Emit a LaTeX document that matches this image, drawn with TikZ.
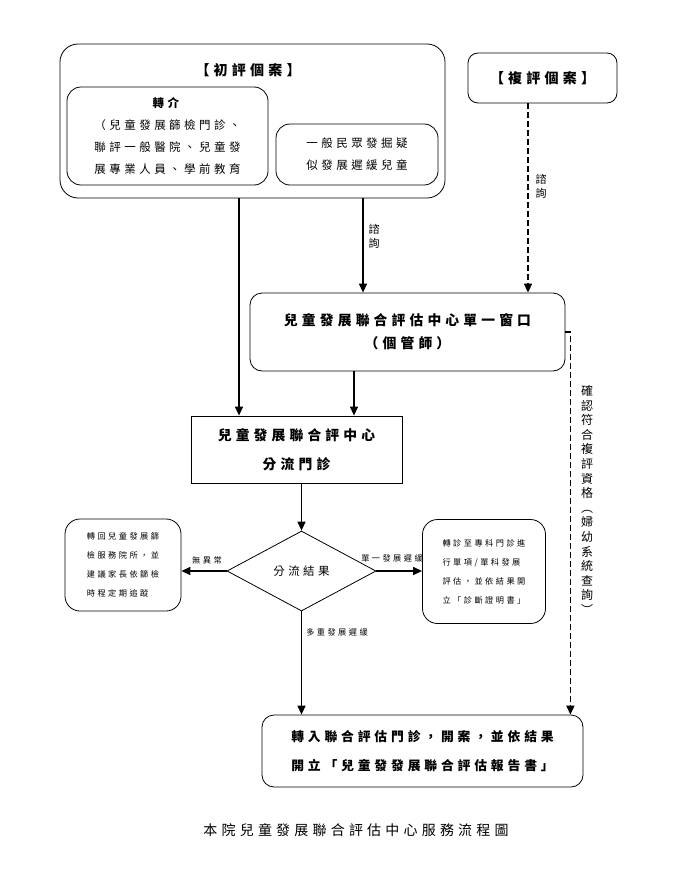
\documentclass[tikz,border=0pt]{standalone}
\usepackage{fontspec}
\newfontfamily\cjk[LetterSpace=30]{Noto Sans CJK TC}
\newfontfamily\cjkstack{Noto Sans CJK TC}
\usetikzlibrary{arrows.meta, positioning, shapes.geometric}

\begin{document}
\begin{tikzpicture}[>={Triangle[length=9pt,width=8pt]}, x=1pt, y=-1pt, font=\cjk]

        % Styles
        \tikzstyle{casebox} = [draw, line width=0.8pt, rounded corners=18pt, inner sep=0pt]
        \tikzstyle{innerbox} = [draw, line width=0.8pt, rounded corners=14pt, align=center, font=\cjk\fontsize{11.5}{22}\selectfont]
        \tikzstyle{mainbox} = [draw, line width=0.8pt, rounded corners=12pt, align=center, font=\cjk\bfseries\fontsize{13.8}{23}\selectfont]
        \tikzstyle{sidebox} = [draw, line width=0.8pt, rounded corners=15pt, align=left, font=\cjk\fontsize{8.2}{19}\selectfont]
        \tikzstyle{edgelabel} = [inner sep=1pt, font=\cjk\fontsize{8.2}{10}\selectfont]
        \tikzstyle{stacklabel} = [inner sep=0pt, align=center, font=\cjkstack\fontsize{11}{14}\selectfont]
        \tikzstyle{arrowline} = [->, line width=1.3pt]
        \tikzstyle{dasharrow} = [->, line width=1.6pt, dash pattern=on 6pt off 3pt]

        \useasboundingbox (0,0) rectangle (687,886);

        % First visit cases
        \node[casebox, minimum width=385pt, minimum height=154pt] (initial) at (252.5,121) {};
        \node[font=\cjk\bfseries\fontsize{14}{16}\selectfont] (initialtitle) at (248,70) {【初評個案】};
        \node[innerbox, minimum width=201pt, minimum height=98pt] (referral) at (167.5,136) {\textbf{轉介}\\（兒童發展篩檢門診、\\聯評一般醫院、兒童發\\展專業人員、學前教育};
        \node[innerbox, minimum width=162pt, minimum height=61pt] (public) at (357,154.5) {一般民眾發掘疑\\似發展遲緩兒童};

        % Follow-up cases
        \node[casebox, rounded corners=10pt, minimum width=149pt, minimum height=50pt, font=\cjk\bfseries\fontsize{14}{16}\selectfont] (revisit) at (542.5,78) {【複評個案】};

        % Center and triage
        \node[mainbox, minimum width=315pt, minimum height=78pt] (window) at (407.5,332) {兒童發展聯合評估中心單一窗口\\（個管師）};
        \node[mainbox, sharp corners, minimum width=211pt, minimum height=67pt, font=\cjk\bfseries\fontsize{13.8}{29}\selectfont] (triage) at (296.5,449.5) {兒童發展聯合評中心\\分流門診};
        \node[draw, diamond, line width=0.8pt, minimum width=149pt, minimum height=80pt, inner sep=0pt, font=\cjk\fontsize{11.5}{14}\selectfont] (decision) at (301.5,571) {分流結果};

        % Outcomes
        \node[sidebox, minimum width=116pt, minimum height=92pt] (normal) at (123,565) {轉回兒童發展篩\\檢服務院所，並\\建議家長依篩檢\\時程定期追蹤};
        \node[sidebox, minimum width=123pt, minimum height=104pt] (single) at (484,571.5) {轉診至專科門診進\\行單項/單科發展\\評估，並依結果開\\立「診斷證明書」};
        \node[mainbox, minimum width=321pt, minimum height=72pt, font=\cjk\bfseries\fontsize{12.8}{29}\selectfont] (final) at (422.5,751) {轉入聯合評估門診，開案，並依結果\\開立「兒童發發展聯合評估報告書」};

        % Arrows
        \draw[arrowline] ([xshift=-44.5pt]window.north |- initial.south) -- ([xshift=-44.5pt]window.north);
        \draw[dasharrow] ([xshift=-14.5pt]revisit.south) -- ([xshift=-14.5pt]revisit.south |- window.north);
        \draw[arrowline] ([xshift=-57.5pt]triage.north |- initial.south) -- ([xshift=-57.5pt]triage.north);
        \draw[arrowline] ([xshift=-53.5pt]window.south) -- ([xshift=-53.5pt]window.south |- triage.north);
        \draw[arrowline] (decision.north |- triage.south) -- (decision.north);
        \draw[arrowline] (decision.west) -- (decision.west -| normal.east);
        \draw[arrowline] (decision.east) -- (decision.east -| single.west);
        \draw[arrowline] (decision.south) -- (decision.south |- final.north);
        \draw[dasharrow] (window.east) -- ([xshift=5pt]window.east) -- ([xshift=5pt]window.east |- final.north);

        % Labels
        \node[stacklabel] (consultA) at (374,236) {諮\\詢};
        \node[stacklabel] (consultB) at (541,186) {諮\\詢};
        \node[stacklabel, font=\cjkstack\fontsize{12}{14.6}\selectfont] (checklabel) at (587,500) {確\\認\\符\\合\\複\\評\\資\\格\\︵\\婦\\幼\\系\\統\\查\\詢\\︶};
        \node[edgelabel] (normallabel) at (207,560) {無異常};
        \node[edgelabel] (singlelabel) at (392,558) {單一發展遲緩};
        \node[edgelabel] (multilabel) at (337,632) {多重發展遲緩};
        \node[font=\cjk\fontsize{14}{16}\selectfont] (caption) at (356,830) {本院兒童發展聯合評估中心服務流程圖};

\end{tikzpicture}
\end{document}
